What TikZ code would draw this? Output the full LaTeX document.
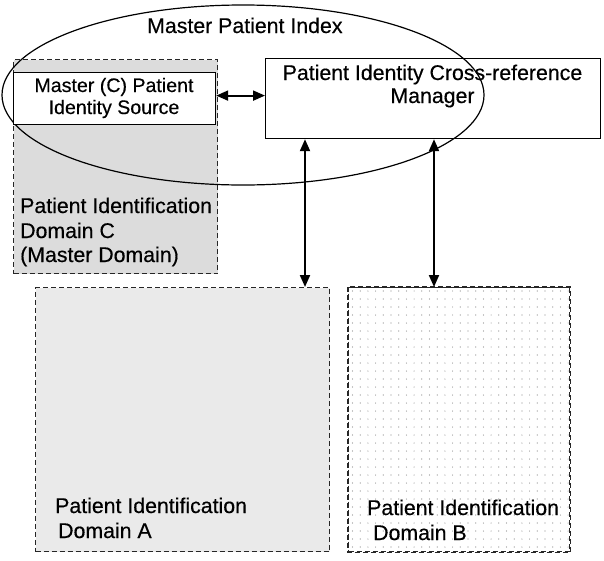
\documentclass[tikz,border=0pt]{standalone}
\usepackage{fontspec}
\setmainfont{Liberation Sans}[FakeBold=0.4]
\usetikzlibrary{arrows.meta}
\definecolor{gC}{HTML}{DCDCDC}
\definecolor{gA}{HTML}{EAEAEA}
\definecolor{dashcol}{HTML}{262626}
\definecolor{dotcol}{HTML}{8C8C8C}
\tikzset{
  domainbox/.style={draw=dashcol, line width=1.3pt, dash pattern=on 5pt off 3pt, inner sep=0pt, anchor=north west},
  solidbox/.style={draw=black, line width=1.2pt, fill=white, inner sep=0pt, anchor=north west},
  lbl/.style={inner sep=0pt, font=\fontsize{21.3}{25}\selectfont},
  slbl/.style={inner sep=0pt, font=\fontsize{19.6}{22}\selectfont},
  arr/.style={line width=2pt, {Triangle[length=12pt,width=10pt]}-{Triangle[length=12pt,width=10pt]}},
}
\begin{document}
\begin{tikzpicture}[x=1pt,y=-1pt]
\useasboundingbox (0,0) rectangle (604,560);
% domain boxes
\node[domainbox, fill=gC, minimum width=204pt, minimum height=214pt] (domC) at (13,59) {};
\node[domainbox, fill=gA, minimum width=294pt, minimum height=264pt] (domA) at (35,287) {};
\node[domainbox, fill=white, minimum width=221pt, minimum height=264pt] (domB) at (348,287) {};
\begin{scope}
\clip (domB.north west) rectangle (domB.south east);
\foreach \i in {0,...,28} {
  \foreach \j in {0,...,32} {
    \fill[dotcol] (352.5+7.7*\i, 291+8*\j) circle (0.6pt);
  }
}
\end{scope}
\draw[dashcol, line width=1.3pt, dash pattern=on 5pt off 3pt] (domB.north west) rectangle (domB.south east);
% ellipse
\draw[line width=1.2pt] (243,95) ellipse [x radius=241, y radius=90];
\node[lbl, anchor=base west] (title) at (147,33) {Master Patient Index};
% solid boxes
\node[solidbox, minimum width=202pt, minimum height=52pt] (mpis) at (13,72) {};
\node[draw=black, line width=1.2pt, inner sep=0pt, anchor=north west, minimum width=335pt, minimum height=80pt] (pix) at (265,58) {};
\node[slbl, anchor=base] (mpis1) at (114,92) {Master (C) Patient};
\node[slbl, anchor=base] (mpis2) at (114,114) {Identity Source};
\node[lbl, anchor=base] (pix1) at (432.5,80) {Patient Identity Cross-reference};
\node[lbl, anchor=base] (pix2) at (432.5,103) {Manager};
% domain labels
\node[lbl, anchor=base west] (c1) at (20,213) {Patient Identification};
\node[lbl, anchor=base west] (c2) at (20,238) {Domain C};
\node[lbl, anchor=base west] (c3) at (20,262) {(Master Domain)};
\node[lbl, anchor=base west] (a1) at (55,513) {Patient Identification};
\node[lbl, anchor=base west] (a2) at (58,538) {Domain A};
\node[lbl, anchor=base west] (b1) at (367,515) {Patient Identification};
\node[lbl, anchor=base west] (b2) at (373,540) {Domain B};
% arrows
\coordinate (xa) at (305,0);
\coordinate (xb) at (434,0);
\draw[arr] ([yshift=3pt]mpis.east) -- ([yshift=3pt]mpis.east -| pix.west);
\draw[arr] (pix.south -| xa) -- (domA.north -| xa);
\draw[arr] (pix.south -| xb) -- (domB.north -| xb);
\end{tikzpicture}
\end{document}
